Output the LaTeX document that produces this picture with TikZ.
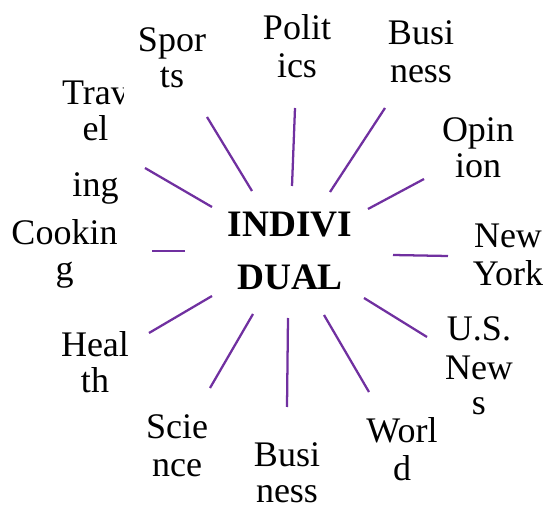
\documentclass[tikz,border=0pt]{standalone}
\usepackage{fontspec}
\setmainfont{Liberation Serif}
\definecolor{spoke}{HTML}{7030A0}
\newcommand{\lbl}[1]{\begin{tabular}[t]{@{}c@{}}#1\end{tabular}}
\begin{document}
\begin{tikzpicture}[x=0.75pt,y=-0.75pt,
  lab/.style={inner sep=0pt, anchor=base, font=\fontsize{27}{27}\selectfont},
  hub/.style={inner sep=0pt, anchor=base, font=\fontsize{28}{39.75}\selectfont\bfseries},
  spk/.style={draw=spoke, line width=1.7pt}]
\useasboundingbox (0,0) rectangle (547,506);
% hub
\node[hub] (hub) at (290,237) {\lbl{INDIVI\\DUAL}};
% labels
\node[lab] (sports) at (172,52) {\lbl{Spor\\ts}};
\node[lab] (politics) at (297,40) {\lbl{Polit\\[1.5pt]ics}};
\node[lab] (business1) at (421,45) {\lbl{Busi\\[1.5pt]ness}};
\node[lab] (opinion) at (478,142) {\lbl{Opin\\ion}};
\node[lab] (newyork) at (508,248) {\lbl{New\\[1.5pt]York}};
\node[lab] (usnews) at (479,341) {\lbl{U.S.\\[1.5pt]New\\s}};
\node[lab] (world) at (402,442) {\lbl{Worl\\[2pt]d}};
\node[lab] (business2) at (287,466) {\lbl{Busi\\ness}};
\node[lab] (science) at (177,438) {\lbl{Scie\\[2pt]nce}};
\node[lab] (health) at (95,357) {\lbl{Heal\\th}};
\node[lab] (cooking) at (64.5,245) {\lbl{Cookin\\g}};
\begin{scope}
\clip (0,60) rectangle (123,215);
\node[lab] (travel) at (95.5,105) {\lbl{Trav\\el\\[15pt]ing}};
\end{scope}
% spoke ends
\coordinate (sA1) at (252,191); \coordinate (sA2) at (207,117);
\coordinate (tA1) at (212,207); \coordinate (tA2) at (145,168);
\coordinate (cA1) at (185,251); \coordinate (cA2) at (152,251);
\coordinate (pA1) at (292,186); \coordinate (pA2) at (295,108);
\coordinate (bA1) at (330,192); \coordinate (bA2) at (385,108);
\coordinate (oA1) at (368,209); \coordinate (oA2) at (424,179);
\coordinate (nA1) at (393,255); \coordinate (nA2) at (448,256);
\coordinate (uA1) at (364,298); \coordinate (uA2) at (427,337);
\coordinate (wA1) at (324,315); \coordinate (wA2) at (369,392);
\coordinate (dA1) at (288,318); \coordinate (dA2) at (287,407);
\coordinate (eA1) at (253,314); \coordinate (eA2) at (210,388);
\coordinate (hA1) at (212,296); \coordinate (hA2) at (149,333);
% spokes
\draw[spk] (sA1) -- (sA2);
\draw[spk] (tA1) -- (tA2);
\draw[spk] (cA1) -- (cA2);
\draw[spk] (pA1) -- (pA2);
\draw[spk] (bA1) -- (bA2);
\draw[spk] (oA1) -- (oA2);
\draw[spk] (nA1) -- (nA2);
\draw[spk] (uA1) -- (uA2);
\draw[spk] (wA1) -- (wA2);
\draw[spk] (dA1) -- (dA2);
\draw[spk] (eA1) -- (eA2);
\draw[spk] (hA1) -- (hA2);
\end{tikzpicture}
\end{document}
